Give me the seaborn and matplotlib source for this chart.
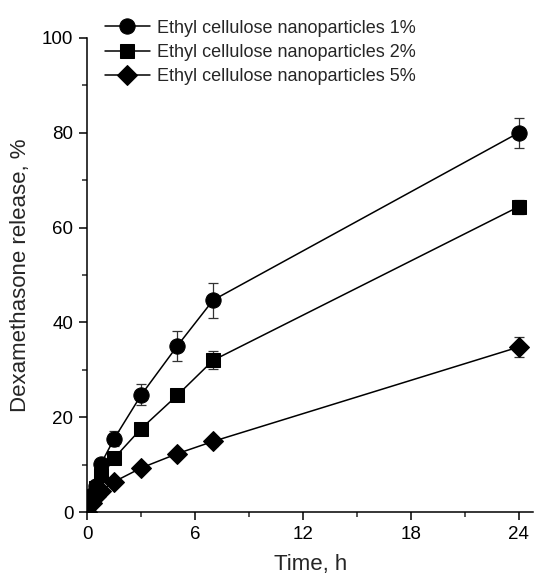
import matplotlib
matplotlib.use("Agg")
import matplotlib.pyplot as plt
from matplotlib.ticker import MultipleLocator
import seaborn as sns
import pandas as pd

# release data
time_h = [0, 0.25, 0.5, 0.75, 1.5, 3, 5, 7, 24]
ec_1 = [0, 3.5, 5.5, 10.1, 15.5, 24.7, 35.0, 44.7, 80.0]
ec_2 = [0, 3.0, 5.0, 7.8, 11.4, 17.6, 24.6, 32.0, 64.4]
ec_5 = [0, 2.0, 3.3, 4.5, 6.4, 9.3, 12.3, 14.9, 34.8]
err_1 = [0, 0.5, 0.8, 1.0, 1.5, 2.2, 3.2, 3.7, 3.2]
err_2 = [0, 0.3, 0.5, 0.7, 0.8, 0.9, 1.2, 1.9, 1.5]
err_5 = [0, 0.3, 0.4, 0.5, 0.6, 0.7, 0.8, 0.9, 2.2]
labels = ["Ethyl cellulose nanoparticles 1%",
          "Ethyl cellulose nanoparticles 2%",
          "Ethyl cellulose nanoparticles 5%"]

rows = []
for lab, vals, errs in zip(labels, [ec_1, ec_2, ec_5], [err_1, err_2, err_5]):
    for t, v, e in zip(time_h, vals, errs):
        rows.append({"Time": t, "Release": v, "Err": e, "Sample": lab})
df = pd.DataFrame(rows)

sns.set_style("ticks")
plt.rcParams["font.family"] = ["Liberation Sans", "DejaVu Sans"]

fig = plt.figure(figsize=(5.37, 5.79), dpi=100)
ax = fig.add_axes([0.1626, 0.1157, 0.83, 0.8187])

markers = {labels[0]: "o", labels[1]: "s", labels[2]: "D"}
sizes = {labels[0]: 11, labels[1]: 10, labels[2]: 10.5}

for lab in labels:
    sub = df[df["Sample"] == lab]
    ax.errorbar(sub["Time"], sub["Release"], yerr=sub["Err"], fmt="none",
                ecolor="#333333", elinewidth=0.9, capsize=3.5, capthick=0.9, zorder=2)

for lab in labels:
    sns.lineplot(data=df[df["Sample"] == lab], x="Time", y="Release", ax=ax,
                 color="black", linewidth=1.1, marker=markers[lab],
                 markersize=sizes[lab], markeredgecolor="black", label=lab,
                 zorder=3, legend=False)

ax.set_xlim(0, 24.8)
ax.set_ylim(0, 100)
ax.xaxis.set_major_locator(MultipleLocator(6))
ax.xaxis.set_minor_locator(MultipleLocator(3))
ax.yaxis.set_major_locator(MultipleLocator(20))
ax.yaxis.set_minor_locator(MultipleLocator(10))
ax.tick_params(which="major", direction="out", length=6, width=1.1, pad=4,
               labelsize=13.5, colors="black")
ax.tick_params(which="minor", direction="out", length=3.5, width=1.1)
for side in ["top", "right"]:
    ax.spines[side].set_visible(False)
for side in ["left", "bottom"]:
    ax.spines[side].set_linewidth(1.1)
    ax.spines[side].set_color("black")

ax.set_xlabel("Time, h", fontsize=16, labelpad=8)
ax.set_ylabel("Dexamethasone release, %", fontsize=16, labelpad=8)

handles, hl = ax.get_legend_handles_labels()
fig.legend(handles, hl, loc="upper left", bbox_to_anchor=(0.195, 0.966),
           frameon=False, fontsize=13, handlelength=2.5, handletextpad=0.4,
           labelspacing=0.4, borderpad=0, borderaxespad=0)

fig.savefig("out.png", dpi=100)
